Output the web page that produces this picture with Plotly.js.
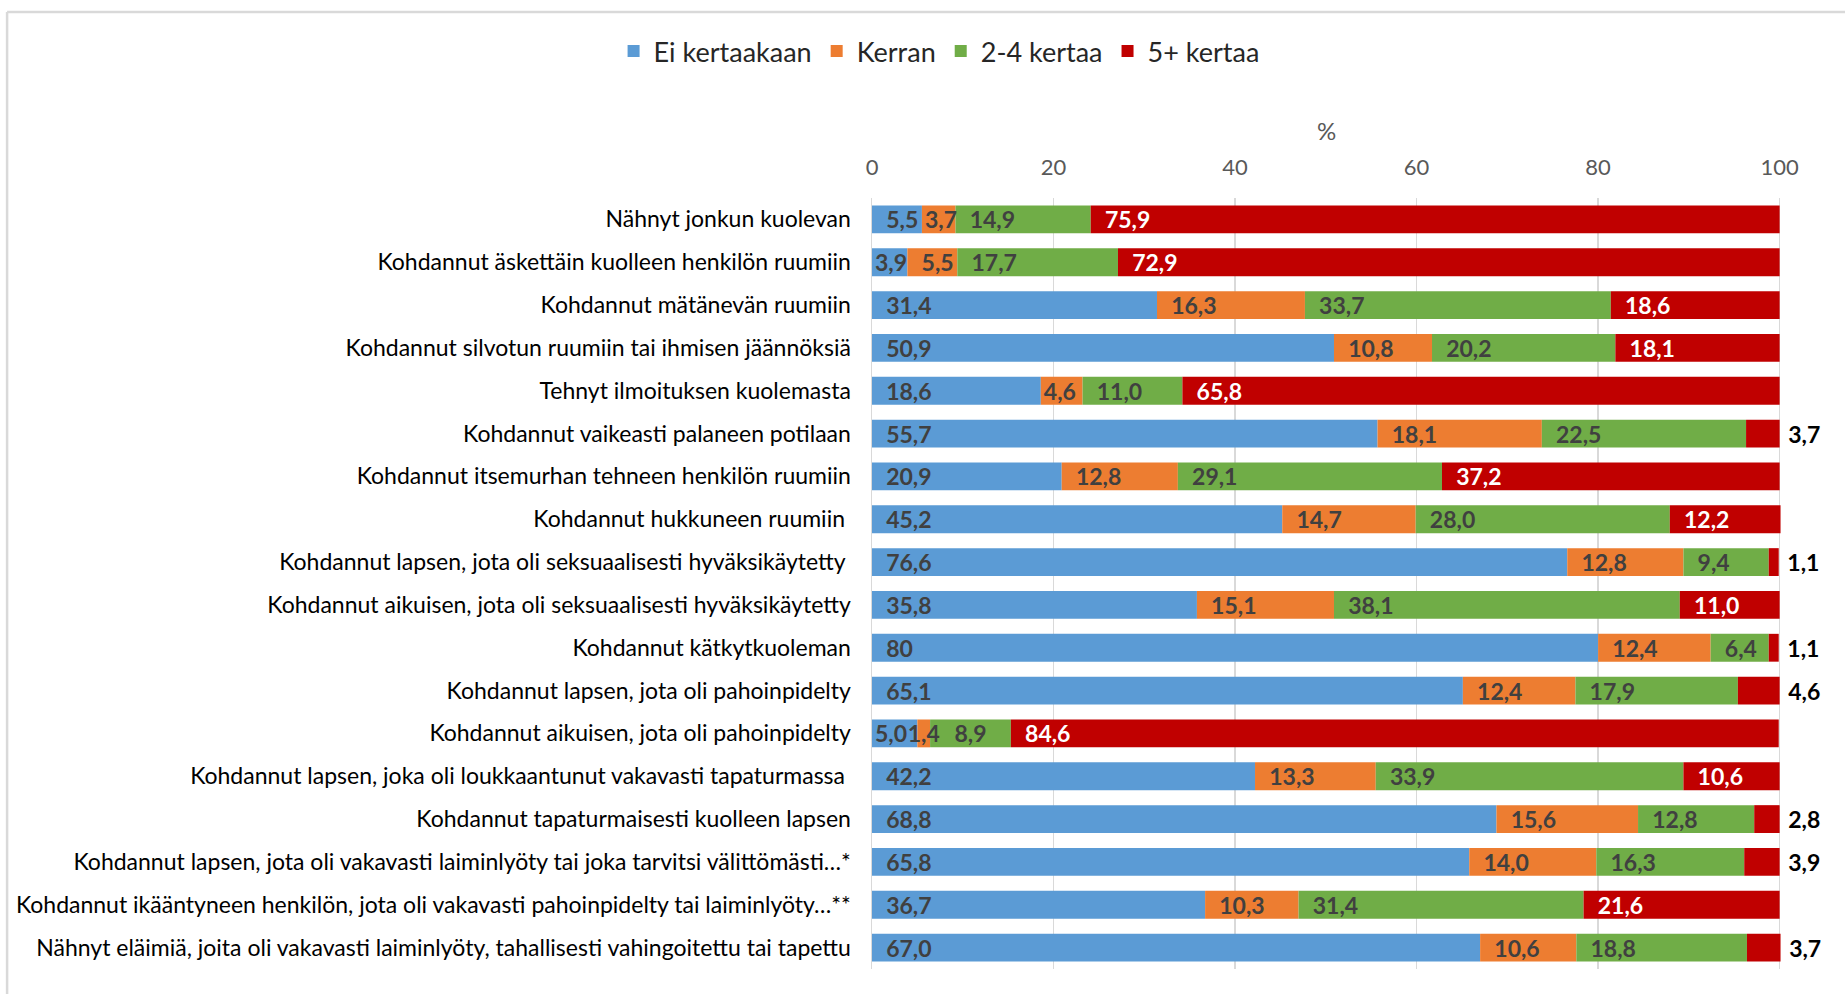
<!DOCTYPE html>
<html>
<head>
<meta charset="utf-8">
<script src="https://cdn.plot.ly/plotly-3.0.1.min.js"></script>
<style>
  html, body { margin: 0; padding: 0; background: #ffffff; }
  #chart { width: 1845px; height: 994px; }
</style>
</head>
<body>
<div id="chart"></div>
<script>
// ---- data ----
const categories = [
  "Nähnyt jonkun kuolevan",
  "Kohdannut äskettäin kuolleen henkilön ruumiin",
  "Kohdannut mätänevän ruumiin",
  "Kohdannut silvotun ruumiin tai ihmisen jäännöksiä",
  "Tehnyt ilmoituksen kuolemasta",
  "Kohdannut vaikeasti palaneen potilaan",
  "Kohdannut itsemurhan tehneen henkilön ruumiin",
  "Kohdannut hukkuneen ruumiin\u00a0",
  "Kohdannut lapsen, jota oli seksuaalisesti hyväksikäytetty\u00a0",
  "Kohdannut aikuisen, jota oli seksuaalisesti hyväksikäytetty",
  "Kohdannut kätkytkuoleman",
  "Kohdannut lapsen, jota oli pahoinpidelty",
  "Kohdannut aikuisen, jota oli pahoinpidelty",
  "Kohdannut lapsen, joka oli loukkaantunut vakavasti tapaturmassa\u00a0",
  "Kohdannut tapaturmaisesti kuolleen lapsen",
  "Kohdannut lapsen, jota oli vakavasti laiminlyöty tai joka tarvitsi välittömästi…*",
  "Kohdannut ikääntyneen henkilön, jota oli vakavasti pahoinpidelty tai laiminlyöty…**",
  "Nähnyt eläimiä, joita oli vakavasti laiminlyöty, tahallisesti vahingoitettu tai tapettu"
];

const seriesNames = ["Ei kertaakaan", "Kerran", "2-4 kertaa", "5+ kertaa"];

// value labels as printed on the chart (Finnish decimal comma)
const eiKertaakaan = ["5,5","3,9","31,4","50,9","18,6","55,7","20,9","45,2","76,6","35,8","80","65,1","5,0","42,2","68,8","65,8","36,7","67,0"];
const kerran       = ["3,7","5,5","16,3","10,8","4,6","18,1","12,8","14,7","12,8","15,1","12,4","12,4","1,4","13,3","15,6","14,0","10,3","10,6"];
const kertaa2to4   = ["14,9","17,7","33,7","20,2","11,0","22,5","29,1","28,0","9,4","38,1","6,4","17,9","8,9","33,9","12,8","16,3","31,4","18,8"];
const kertaa5plus  = ["75,9","72,9","18,6","18,1","65,8","3,7","37,2","12,2","1,1","11,0","1,1","4,6","84,6","10,6","2,8","3,9","21,6","3,7"];

const xTickVals = [0, 20, 40, 60, 80, 100];
const xTickText = ["0", "20", "40", "60", "80", "100"];

// ---- styling ----
const colors = ["#5B9BD5", "#ED7D31", "#70AD47", "#C00000"];
const FONT = "Lato, 'Open Sans', sans-serif";
const LBL = 23;
const NB = "\u00a0";
const toNum = s => parseFloat(s.replace(",", "."));

const seriesLabels = [eiKertaakaan, kerran, kertaa2to4, kertaa5plus];
const seriesVals = seriesLabels.map(arr => arr.map(toNum));
// stacking bases (cumulative sums of the preceding series)
const bases = seriesVals.map((vals, i) =>
  vals.map((_, k) => seriesVals.slice(0, i).reduce((s, arr) => s + arr[k], 0)));

const bars = [];
const labels = [];
function labelTrace(i, vals, text, extra) {
  const isRed = i === 3;
  return Object.assign({
    type: "bar", orientation: "h",
    showlegend: false,
    y: categories, x: vals, base: bases[i],
    marker: { color: "rgba(0,0,0,0)", line: { width: 0 } },
    text: text,
    textposition: "inside",
    insidetextanchor: "start",
    textangle: 0,
    constraintext: "none",
    cliponaxis: false,
    insidetextfont: { family: FONT, size: LBL, color: isRed ? "#FFFFFF" : "#404040", weight: 700 },
    outsidetextfont: { family: FONT, size: LBL, color: "#000000", weight: 700 },
    hoverinfo: "skip"
  }, extra || {});
}

seriesVals.forEach((vals, i) => {
  bars.push({
    type: "bar", orientation: "h",
    name: seriesNames[i],
    y: categories, x: vals, base: bases[i],
    marker: { color: colors[i], line: { width: 0 } },
    textposition: "none",
    cliponaxis: false,
    hoverinfo: "skip"
  });
  const lbl = seriesLabels[i];
  const prev = i > 0 ? seriesVals[i - 1] : null;
  if (i === 3) {
    labels.push(labelTrace(i, vals,
      lbl.map((s, k) => vals[k] < 5 ? NB + s : NB + NB + s),
      { textposition: vals.map(v => v < 5 ? "outside" : "inside") }));
  } else {
    // centred labels: very thin segments and the segment right after one
    const centred = vals.map((v, k) => v < 3 || (prev && prev[k] < 3));
    // labels anchored at the segment start
    labels.push(labelTrace(i, vals,
      lbl.map((s, k) => centred[k] ? "" : (vals[k] > 5 ? NB + NB : "") + s)));
    labels.push(labelTrace(i, vals,
      lbl.map((s, k) => centred[k] ? s : ""),
      { insidetextanchor: "middle" }));
  }
});

const layout = {
  width: 1845,
  height: 994,
  margin: { l: 872, r: 64, t: 198, b: 25, pad: 0 },
  paper_bgcolor: "#ffffff",
  plot_bgcolor: "#ffffff",
  barmode: "overlay",
  bargap: 0.35,
  showlegend: true,
  legend: {
    orientation: "h",
    x: 0.0738, xanchor: "center",
    y: 1.19, yanchor: "middle",
    font: { family: FONT, size: 27, color: "#262626" },
    traceorder: "normal",
    itemwidth: 30
  },
  xaxis: {
    side: "top",
    range: [0, 100.15],
    tickvals: xTickVals,
    ticktext: xTickText,
    showgrid: true,
    gridcolor: "#D9D9D9",
    gridwidth: 1.5,
    zeroline: false,
    showline: false,
    ticks: "",
    ticklabelstandoff: 18,
    tickfont: { family: FONT, size: 22, color: "#595959" },
    title: { text: "%", font: { family: FONT, size: 24, color: "#595959" }, standoff: 5 },
    fixedrange: true
  },
  yaxis: {
    type: "category",
    autorange: "reversed",
    showgrid: false,
    zeroline: false,
    showline: true,
    linecolor: "#D9D9D9",
    linewidth: 1.5,
    ticks: "",
    ticklabelstandoff: 15,
    tickfont: { family: FONT, size: 23, color: "#000000" },
    automargin: false,
    fixedrange: true
  },
  shapes: [
    { type: "line", xref: "paper", yref: "paper", x0: -0.9515, x1: 1.2, y0: 1.2412, y1: 1.2412,
      line: { color: "#D9D9D9", width: 2.5 } },
    { type: "line", xref: "paper", yref: "paper", x0: -0.9515, x1: -0.9515, y0: -0.1, y1: 1.2412,
      line: { color: "#D9D9D9", width: 2.5 } }
  ]
};

Plotly.newPlot("chart", bars.concat(labels), layout, { staticPlot: true, displayModeBar: false });
</script>
</body>
</html>
